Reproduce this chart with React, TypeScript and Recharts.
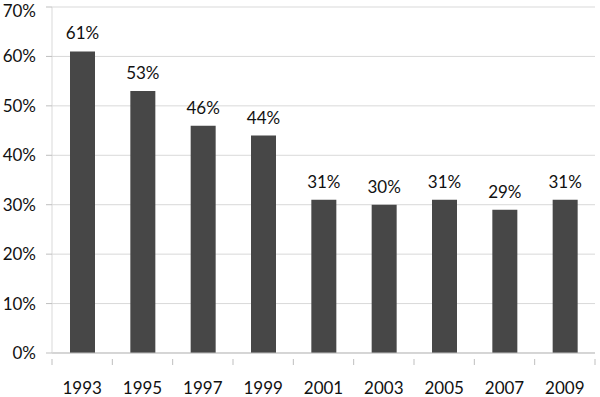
import React from "react";
import { BarChart, Bar, XAxis, YAxis, CartesianGrid, LabelList } from "recharts";

const years = ["1993", "1995", "1997", "1999", "2001", "2003", "2005", "2007", "2009"];
const shares = [61, 53, 46, 44, 31, 30, 31, 29, 31];
const yTicks = [0, 10, 20, 30, 40, 50, 60, 70];

const data = years.map((year, i) => ({ year, share: shares[i] }));

const FONT = "Lato, 'Open Sans', sans-serif";
const AXIS = "#bfbfbf";

const YearTick = (props: any) => {
  const { x, y, payload, index, visibleTicksCount } = props;
  const half = payload && typeof payload.offset === "number" && payload.offset > 0 ? payload.offset : 30.17;
  const axisY = y - 20;
  const last = index === (visibleTicksCount ?? years.length) - 1;
  return (
    <g>
      <line x1={x - half} x2={x - half} y1={axisY} y2={axisY + 6} stroke={AXIS} />
      {last && <line x1={x + half} x2={x + half} y1={axisY} y2={axisY + 6} stroke={AXIS} />}
      <text x={x} y={y} dy={15} textAnchor="middle" fill="#111" fontSize={17} fontFamily={FONT}>
        {payload.value}
      </text>
    </g>
  );
};

export default function App() {
  return (
    <div style={{ position: "absolute", left: 0, top: 0, background: "#fff" }}>
      <BarChart
        width={600}
        height={397}
        data={data}
        margin={{ top: 7, right: 5, bottom: 0, left: 0 }}
        barSize={25}
      >
        <CartesianGrid vertical={false} stroke="#d9d9d9" />
        <XAxis
          dataKey="year"
          tickLine={false}
          axisLine={{ stroke: AXIS }}
          height={44}
          tick={YearTick}
          tickMargin={20}
          interval={0}
        />
        <YAxis
          domain={[0, 70]}
          ticks={yTicks}
          width={52}
          tickFormatter={(v: number) => `${v}%`}
          tick={{ fill: "#111", fontSize: 17, fontFamily: FONT }}
          tickLine={{ stroke: AXIS }}
          tickSize={6}
          tickMargin={10}
          axisLine={{ stroke: "#d9d9d9" }}
        />
        <Bar dataKey="share" fill="#474747" isAnimationActive={false}>
          <LabelList
            dataKey="share"
            position="top"
            offset={12}
            formatter={(v: number) => `${v}%`}
            style={{ fill: "#111", fontSize: 17, fontFamily: FONT }}
          />
        </Bar>
      </BarChart>
    </div>
  );
}
